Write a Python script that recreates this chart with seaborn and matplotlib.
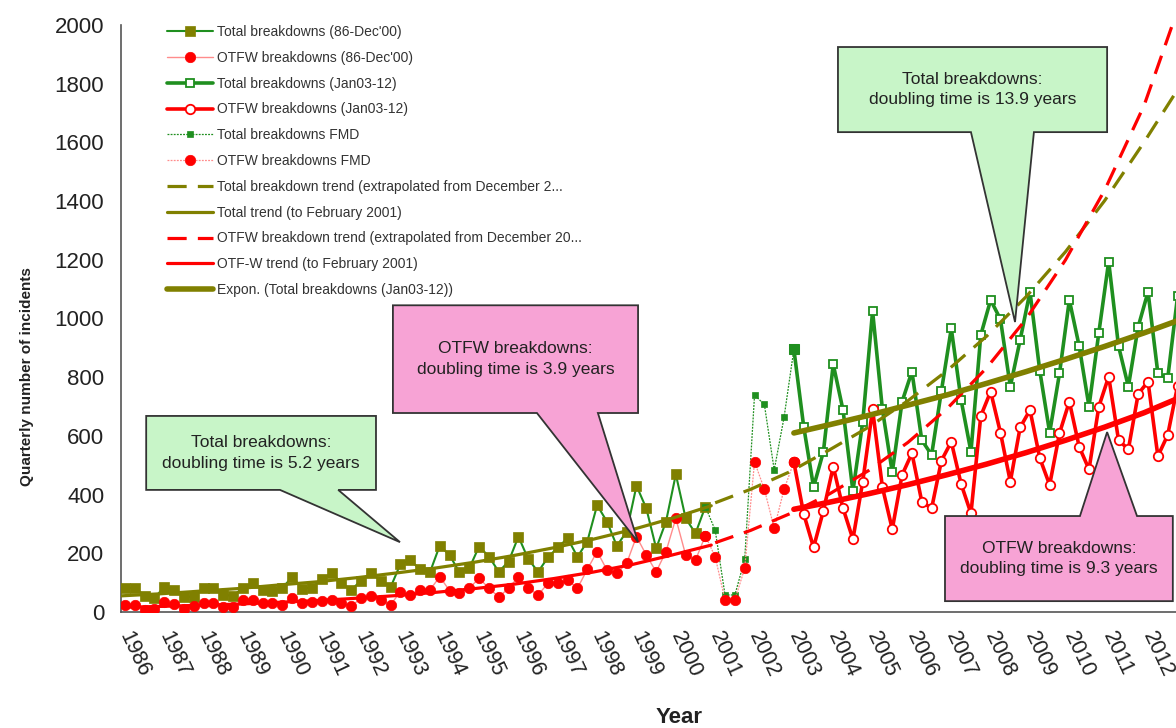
import numpy as np
import pandas as pd
import matplotlib
matplotlib.use("Agg")
import matplotlib.pyplot as plt
from matplotlib.patches import Polygon
from matplotlib.transforms import ScaledTranslation
import seaborn as sns

# ---------------- data ----------------
total_86_00 = [81, 82, 56, 47, 86, 75, 52, 52, 81, 82, 58, 56, 82, 98, 75, 73,
               81, 120, 80, 83, 111, 132, 100, 75, 107, 132, 107, 84, 163, 177, 145, 135,
               226, 194, 135, 149, 223, 189, 137, 172, 257, 180, 137, 186, 220, 251, 188, 240,
               364, 308, 225, 274, 430, 353, 217, 308, 469, 319, 268, 359]
otfw_86_00 = [24, 25, 7, 10, 35, 27, 10, 20, 30, 30, 18, 16, 41, 41, 30, 30,
              24, 47, 30, 35, 39, 41, 30, 20, 47, 55, 41, 24, 69, 58, 75, 75,
              120, 73, 64, 81, 115, 81, 51, 81, 120, 81, 58, 98, 98, 109, 81, 145,
              206, 143, 132, 166, 257, 194, 137, 206, 319, 194, 177, 260]
total_fmd = [359, 279, 58, 58, 179, 739, 707, 484, 663, 895]
otfw_fmd = [260, 188, 41, 41, 149, 512, 418, 285, 418, 511]
total_03_12 = [895, 631, 426, 546, 844, 687, 412, 648, 1025, 690, 476, 717,
               819, 586, 535, 754, 966, 722, 546, 944, 1063, 997, 768, 927,
               1091, 821, 611, 813, 1063, 906, 700, 952, 1194, 906, 768, 972,
               1091, 813, 796, 1075]
otfw_03_12 = [510, 334, 220, 345, 495, 353, 248, 444, 690, 425, 282, 467,
              541, 376, 353, 516, 580, 436, 336, 668, 751, 611, 444, 629,
              688, 524, 433, 609, 717, 563, 486, 700, 802, 586, 554, 743,
              785, 531, 603, 770]

# trend lines (values read at knots along each curve)
total_trend_x = [1986, 1987, 1988, 1989, 1990, 1991, 1992, 1993, 1994, 1995, 1996, 1997,
                 1998, 1999, 2000, 2001]
total_trend_y = [55, 62, 71, 80, 92, 103, 117, 133, 150, 170, 193, 219, 248, 281, 319, 362]
otfw_trend_x = total_trend_x
otfw_trend_y = [16, 19, 23, 27, 33, 39, 47, 56, 67, 80, 95, 114, 136, 162, 194, 228]
total_extrap_x = [2001.1, 2002, 2003, 2004, 2005, 2006, 2007, 2008, 2009, 2010, 2011, 2012, 2012.9]
total_extrap_y = [372, 418, 478, 552, 630, 720, 823, 940, 1074, 1227, 1402, 1601, 1790]
otfw_extrap_x = total_extrap_x
otfw_extrap_y = [236, 278, 335, 402, 482, 578, 694, 832, 998, 1199, 1438, 1726, 2070]
expon_x = [2003.1, 2004, 2005, 2006, 2007, 2008, 2009, 2010, 2011, 2012, 2012.9]
expon_total_y = [610, 638, 670, 705, 740, 779, 819, 861, 905, 951, 995]
expon_otfw_y = [350, 374, 403, 434, 468, 504, 543, 585, 630, 679, 730]

year_ticks = list(range(1986, 2013))
y_ticks = list(range(0, 2001, 200))

legend_labels = [
    "Total breakdowns (86-Dec'00)",
    "OTFW breakdowns (86-Dec'00)",
    "Total breakdowns (Jan03-12)",
    "OTFW breakdowns (Jan03-12)",
    "Total breakdowns FMD",
    "OTFW breakdowns FMD",
    "Total breakdown trend (extrapolated from December 2...",
    "Total trend (to February 2001)",
    "OTFW breakdown trend (extrapolated from December 20...",
    "OTF-W trend (to February 2001)",
    "Expon. (Total breakdowns (Jan03-12))",
]

# callouts: (text, fill, box x0, x1, y_bottom, y_top, tail base a, tail base b, tip x, tip y, side)
callouts = [
    ("Total breakdowns:\ndoubling time is 5.2 years", "#c8f5c8",
     1986.64, 1992.48, 416, 668, 1990.04, 1991.52, 1993.09, 238, "bottom"),
    ("OTFW breakdowns:\ndoubling time is 3.9 years", "#f7a3d5",
     1992.91, 1999.14, 678, 1045, 1996.57, 1998.12, 1999.14, 238, "bottom"),
    ("Total breakdowns:\ndoubling time is 13.9 years", "#c8f5c8",
     2004.22, 2011.06, 1635, 1925, 2007.6, 2009.2, 2008.72, 988, "bottom"),
    ("OTFW breakdowns:\ndoubling time is 9.3 years", "#f7a3d5",
     2006.94, 2012.73, 37, 327, 2010.37, 2011.82, 2011.06, 613, "top"),
]

# ---------------- style ----------------
sns.set_style("white")
plt.rcParams["font.family"] = ["Liberation Sans", "DejaVu Sans"]

W, H = 1176, 728
fig = plt.figure(figsize=(W / 100, H / 100), dpi=100)
ax_left, ax_right, ax_bot, ax_top = 121, 1176, 612, 25
ax = fig.add_axes([ax_left / W, 1 - ax_bot / H, (ax_right - ax_left) / W, (ax_bot - ax_top) / H])
px_per_year = 39.35
ax.set_xlim(1986, 1986 + (ax_right - ax_left) / px_per_year)
ax.set_ylim(0, 2000)

GREEN = "#1f8f1f"
OLIVE = "#808000"
RED = "#ff0000"
PINK = "#ff8c8c"

x86 = 1986.1 + 0.25 * np.arange(len(total_86_00))
xfmd = 2000.85 + 0.25 * np.arange(len(total_fmd))
x03 = 2003.1 + 0.25 * np.arange(len(total_03_12))


def line(x, y, **kw):
    sns.lineplot(x=np.asarray(x, float), y=np.asarray(y, float), ax=ax,
                 errorbar=None, legend=False, **kw)
    return ax.lines[-1]


h = {}
h[0] = line(x86, total_86_00, color=GREEN, linewidth=1.5, marker="s", markersize=7,
            markerfacecolor=OLIVE, markeredgecolor=OLIVE, markeredgewidth=0.5, zorder=3)
h[1] = line(x86, otfw_86_00, color=PINK, linewidth=1.0, marker="o", markersize=7.5,
            markerfacecolor=RED, markeredgecolor=RED, markeredgewidth=0.5, zorder=3)
h[4] = line(xfmd, total_fmd, color=GREEN, linewidth=0.9, linestyle=(0, (1.5, 1)), marker="s",
            markersize=4.2, markerfacecolor=GREEN, markeredgecolor=GREEN, markeredgewidth=0.5, zorder=3)
h[5] = line(xfmd, otfw_fmd, color=PINK, linewidth=0.9, linestyle=(0, (1.5, 1)), marker="o",
            markersize=7.5, markerfacecolor=RED, markeredgecolor=RED, markeredgewidth=0.5, zorder=3)
h[2] = line(x03, total_03_12, color=GREEN, linewidth=2.6, marker="s", markersize=6.3,
            markerfacecolor="white", markeredgecolor=GREEN, markeredgewidth=1.3, zorder=3)
h[3] = line(x03, otfw_03_12, color=RED, linewidth=2.6, marker="o", markersize=6.8,
            markerfacecolor="white", markeredgecolor=RED, markeredgewidth=1.3, zorder=3)
# first Jan03 point appears filled (end of FMD series)
line(xfmd[-1:], total_fmd[-1:], color=GREEN, linewidth=0, marker="s", markersize=7,
     markerfacecolor=GREEN, markeredgecolor=GREEN, zorder=3.5)
line(xfmd[-1:], otfw_fmd[-1:], color=RED, linewidth=0, marker="o", markersize=7.5,
     markerfacecolor=RED, markeredgecolor=RED, zorder=3.5)

h[6] = line(total_extrap_x, total_extrap_y, color=OLIVE, linewidth=2.3,
            linestyle=(0, (6, 3.5)), zorder=4)
h[7] = line(total_trend_x, total_trend_y, color=OLIVE, linewidth=2.3, zorder=4)
h[8] = line(otfw_extrap_x, otfw_extrap_y, color=RED, linewidth=2.3,
            linestyle=(0, (6, 3.5)), zorder=4)
h[9] = line(otfw_trend_x, otfw_trend_y, color=RED, linewidth=2.3, zorder=4)
h[10] = line(expon_x, expon_total_y, color=OLIVE, linewidth=4.0, zorder=4)
line(expon_x, expon_otfw_y, color=RED, linewidth=4.0, zorder=4)

# ---------------- callouts ----------------
for (txt, fill, x0, x1, yb, yt, ta, tb, tx, ty, side) in callouts:
    if side == "bottom":
        verts = [(x0, yt), (x1, yt), (x1, yb), (tb, yb), (tx, ty), (ta, yb), (x0, yb)]
    else:
        verts = [(x0, yt), (ta, yt), (tx, ty), (tb, yt), (x1, yt), (x1, yb), (x0, yb)]
    ax.add_patch(Polygon(verts, closed=True, facecolor=fill, edgecolor="#333333",
                         linewidth=1.3, zorder=6, joinstyle="miter"))
    ax.text((x0 + x1) / 2, (yb + yt) / 2, txt, ha="center", va="center",
            fontsize=12.5, color="#222222", linespacing=1.45, zorder=7)

# ---------------- axes ----------------
ax.set_xticks(year_ticks)
ax.set_xticklabels([str(y) for y in year_ticks], rotation=-65, ha="left", va="top",
                   fontsize=15.5, color="#222222")
ax.set_yticks(y_ticks)
ax.set_yticklabels([str(v) for v in y_ticks], fontsize=16, color="#222222")
ax.tick_params(axis="x", direction="inout", length=15, width=1, color="#555555", pad=4)
ax.tick_params(axis="y", direction="out", length=5, width=1, color="#555555", pad=7)
shift = ScaledTranslation(-6 / 100, 0, fig.dpi_scale_trans)
for lab in ax.get_xticklabels():
    lab.set_transform(lab.get_transform() + shift)
for s in ["top", "right"]:
    ax.spines[s].set_visible(False)
for s in ["left", "bottom"]:
    ax.spines[s].set_color("#555555")
    ax.spines[s].set_linewidth(1.2)

ax.set_xlabel("Year", fontsize=16, fontweight="bold", color="#222222")
ax.xaxis.set_label_coords((679 - ax_left) / (ax_right - ax_left), (ax_bot - 707) / (ax_bot - ax_top))
ax.set_ylabel("Quarterly number of incidents", fontsize=11, fontweight="bold", color="#222222")
ax.yaxis.set_label_coords((34 - ax_left) / (ax_right - ax_left), (ax_bot - 377) / (ax_bot - ax_top))

handles = [h[i] for i in range(11)]
ax.legend(handles, legend_labels, loc="upper left",
          bbox_to_anchor=((167 - ax_left) / (ax_right - ax_left), 1.0),
          frameon=False, fontsize=10, handlelength=3.3, handletextpad=0.3,
          labelspacing=0.85, borderpad=0, borderaxespad=0, labelcolor="#333333")

fig.savefig("out.png", dpi=100)
